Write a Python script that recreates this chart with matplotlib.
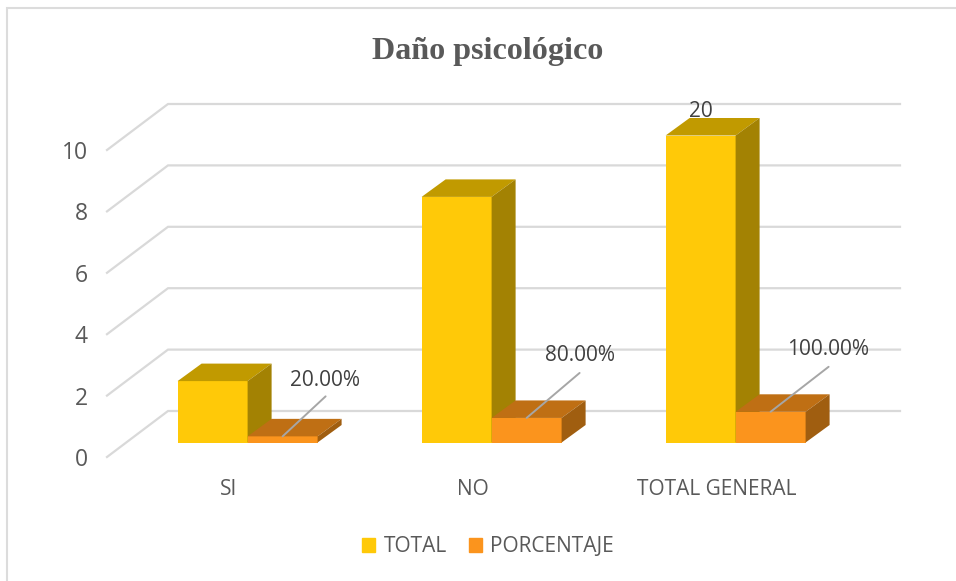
import matplotlib
matplotlib.use("Agg")
import matplotlib.pyplot as plt

from matplotlib.lines import Line2D
from matplotlib.patches import Polygon, Rectangle

W, H = 956, 581

categories = ["SI", "NO", "TOTAL GENERAL"]
total = [2, 8, 10]
porcentaje = [0.2, 0.8, 1.0]
porcentaje_labels = ["20.00%", "80.00%", "100.00%"]
yticks = [0, 2, 4, 6, 8, 10]

plt.rcParams['font.family'] = ['Open Sans', 'DejaVu Sans']
FS = 15

fig = plt.figure(figsize=(W / 100, H / 100), dpi=100)

# front plane of the fake 3d box, everything else is offset from it
left, right, top, bottom = 107, 839, 150, 457
ax = fig.add_axes([left / W, 1 - bottom / H, (right - left) / W, (bottom - top) / H])
ax.set_xlim(-0.5, 2.5)
ax.set_ylim(0, 10)
ax.patch.set_visible(False)
for s in ax.spines.values():
    s.set_visible(False)

px = 3.0 / (right - left)
py = 10.0 / (bottom - top)

# wall depth, bar depth and how far the bars sit from the front
wall_x, wall_y = 61 * px, 46 * py
depth_x, depth_y = 24 * px, 17.5 * py
off_x, off_y = 18.6 * px, 14.5 * py
bar_w = 70 * px

for v in yticks:
    ax.plot([-0.5, -0.5 + wall_x, 2.5 + wall_x], [v, v + wall_y, v + wall_y],
            color="#d9d9d9", lw=1.6, clip_on=False, zorder=1, solid_joinstyle="miter")


def bar3d(x, v, front, top_c, side_c, z):
    x0 = x + off_x
    y0 = off_y
    ax.bar(x0 + bar_w / 2, v, bar_w, bottom=y0, color=front, clip_on=False, zorder=z)
    x1 = x0 + bar_w
    y1 = y0 + v
    ax.add_patch(Polygon([(x0, y1), (x1, y1), (x1 + depth_x, y1 + depth_y), (x0 + depth_x, y1 + depth_y)],
                         closed=True, fc=top_c, ec="none", clip_on=False, zorder=z))
    ax.add_patch(Polygon([(x1, y0), (x1 + depth_x, y0 + depth_y), (x1 + depth_x, y1 + depth_y), (x1, y1)],
                         closed=True, fc=side_c, ec="none", clip_on=False, zorder=z))


for i in range(len(categories)):
    bar3d(i - bar_w, total[i], "#ffc908", "#c19a00", "#a38203", 2)
    bar3d(i, porcentaje[i], "#fb941d", "#bf6f14", "#a05e10", 3)

# labels
ax.text(2 + off_x - bar_w / 2, total[2] + off_y + depth_y + 7 * py, "20", ha="center", va="center",
        fontsize=FS, color="#404040", zorder=5, clip_on=False)
leader_dx = [43, 53, 58]
leader_dy = [40, 45, 45]
text_x = [42, 53, 57]
text_dy = [56, 62, 62]
for i, lab in enumerate(porcentaje_labels):
    xy = (i + off_x + bar_w * 0.5, porcentaje[i] + off_y)
    ax.annotate("", xy=xy, xytext=(leader_dx[i], leader_dy[i]), textcoords="offset pixels",
                arrowprops=dict(arrowstyle="-", color="#a6a6a6", lw=1.4, shrinkA=0, shrinkB=0), zorder=6)
    ax.annotate(lab, xy=xy, xytext=(text_x[i], text_dy[i]), textcoords="offset pixels",
                ha="center", va="center", fontsize=FS, color="#404040", zorder=6)

ax.set_xticks(range(len(categories)))
ax.set_xticklabels(categories, fontsize=FS, color="#595959")
ax.set_yticks(yticks)
ax.set_yticklabels([str(v) for v in yticks], fontsize=16.5, color="#595959")
ax.tick_params(length=0)
ax.tick_params(axis="x", pad=16)
ax.tick_params(axis="y", pad=14)

fig.text(488 / W, 1 - 51 / H, "Daño psicológico", family="Liberation Serif", weight="bold",
         fontsize=23.1, color="#595959", ha="center", va="center")

handles = [Rectangle((0, 0), 1, 1, color="#ffc908"), Rectangle((0, 0), 1, 1, color="#fb941d")]
fig.legend(handles, ["TOTAL", "PORCENTAJE"], loc="center", bbox_to_anchor=(488 / W, 1 - 547 / H),
           ncol=2, frameon=False, fontsize=FS, labelcolor="#595959", handlelength=0.62,
           handleheight=0.62, handletextpad=0.4, columnspacing=1.05)

# only top and left of the outer border show
fig.add_artist(Line2D([7 / W, 7 / W, 1], [0, 1 - 8 / H, 1 - 8 / H], transform=fig.transFigure,
                      color="#dcdcdc", lw=1.5, solid_joinstyle="miter"))

fig.savefig("out.png", dpi=100)
